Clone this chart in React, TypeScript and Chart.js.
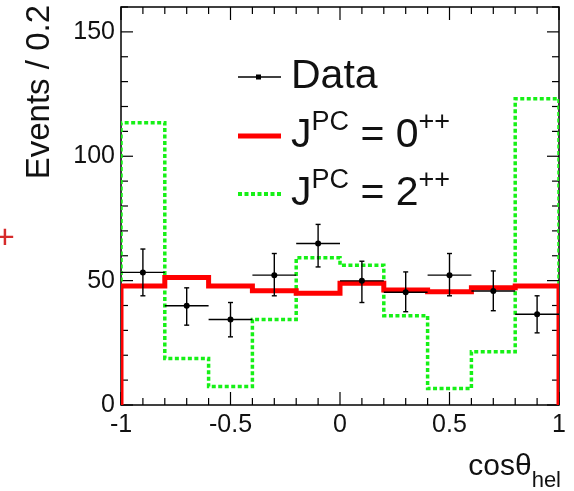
import React, { useEffect, useRef } from 'react';
import { Chart, registerables } from 'chart.js';

Chart.register(...registerables);

// Helicity-angle distribution, bins of width 0.2 in cos(theta_hel)
const binEdges = [-1, -0.8, -0.6, -0.4, -0.2, 0, 0.2, 0.4, 0.6, 0.8, 1];
const binCenters = [-0.9, -0.7, -0.5, -0.3, -0.1, 0.1, 0.3, 0.5, 0.7, 0.9];

// Observed events with asymmetric error bands
const dataCounts = [53.3, 39.9, 34.4, 52.2, 64.9, 49.9, 45.3, 52.2, 45.8, 36.5];
const dataUpper = [62.7, 47.1, 41.2, 60.9, 72.6, 57.8, 53.5, 60.9, 53.9, 43.9];
const dataLower = [43.9, 32.1, 27.4, 43.9, 55.5, 41.2, 37.5, 43.9, 37.9, 29.0];

// Spin-parity hypotheses
const scalar0pp = [47.8, 51.3, 47.8, 45.9, 44.9, 48.9, 46.2, 45.5, 47.1, 47.8];
const tensor2pp = [113.5, 18.7, 7.4, 34.4, 59.2, 56.2, 35.9, 6.6, 21.4, 123.1];

const yTickLabels = [0, 50, 100, 150];
const xTickLabels = [-1, -0.5, 0, 0.5, 1];

const FONT = '"Liberation Sans", Arial, Helvetica, sans-serif';
const RED = '#ff0000';
const GREEN = '#16f016';

const outline = (vals: number[]) => [
  { x: binEdges[0], y: 0 },
  ...vals.map((v, i) => ({ x: binEdges[i], y: v })),
  { x: binEdges[binEdges.length - 1], y: vals[vals.length - 1] },
  { x: binEdges[binEdges.length - 1], y: 0 },
];

const matchX = (v: number) => xTickLabels.find((t) => Math.abs(t - v) < 1e-6);

function seg(ctx: CanvasRenderingContext2D, x1: number, y1: number, x2: number, y2: number) {
  ctx.beginPath();
  ctx.moveTo(x1, y1);
  ctx.lineTo(x2, y2);
  ctx.stroke();
}

// Text made of normal and superscript runs
function drawRich(
  ctx: CanvasRenderingContext2D,
  parts: { t: string; sup?: boolean }[],
  x: number,
  baseline: number
) {
  let cx = x;
  parts.forEach((p) => {
    if (p.sup) {
      ctx.font = `27px ${FONT}`;
      ctx.fillText(p.t, cx, baseline - 17);
    } else {
      ctx.font = `41px ${FONT}`;
      ctx.fillText(p.t, cx, baseline);
    }
    cx += ctx.measureText(p.t).width;
  });
}

const decorPlugin = {
  id: 'decor',
  beforeDatasetsDraw(chart: any) {
    const { ctx, chartArea: a, scales } = chart;
    ctx.save();
    ctx.strokeStyle = '#000';
    ctx.lineWidth = 1.5;
    ctx.strokeRect(a.left, a.top, a.right - a.left, a.bottom - a.top);
    ctx.lineWidth = 1.2;
    const ys = scales.y;
    ys.ticks.forEach((t: any) => {
      const py = ys.getPixelForValue(t.value);
      const len = yTickLabels.includes(t.value) ? 12 : 7;
      seg(ctx, a.left, py, a.left + len, py);
      seg(ctx, a.right, py, a.right - len, py);
    });
    const xs = scales.x;
    xs.ticks.forEach((t: any) => {
      const px = xs.getPixelForValue(t.value);
      const len = matchX(t.value) !== undefined ? 13 : 7;
      seg(ctx, px, a.bottom, px, a.bottom - len);
      seg(ctx, px, a.top, px, a.top + len);
    });
    ctx.restore();
  },
  afterDatasetsDraw(chart: any) {
    const { ctx, scales } = chart;
    const xs = scales.x;
    const ys = scales.y;
    ctx.save();
    ctx.strokeStyle = '#000';
    ctx.lineWidth = 1.4;
    binCenters.forEach((c, i) => {
      const px = xs.getPixelForValue(c);
      const pl = xs.getPixelForValue(binEdges[i]);
      const pr = xs.getPixelForValue(binEdges[i + 1]);
      const py = ys.getPixelForValue(dataCounts[i]);
      const pu = ys.getPixelForValue(dataUpper[i]);
      const pd = ys.getPixelForValue(dataLower[i]);
      seg(ctx, pl, py, pr, py);
      seg(ctx, px, pu, px, pd);
      seg(ctx, px - 2.5, pu, px + 2.5, pu);
      seg(ctx, px - 2.5, pd, px + 2.5, pd);
    });
    ctx.restore();
  },
  afterDraw(chart: any) {
    const { ctx } = chart;
    ctx.save();
    ctx.fillStyle = '#111';

    // y-axis title
    ctx.save();
    ctx.translate(49, 5);
    ctx.rotate(-Math.PI / 2);
    ctx.font = `33px ${FONT}`;
    ctx.textAlign = 'right';
    ctx.textBaseline = 'alphabetic';
    ctx.fillText('Events / 0.2', 0, 0);
    ctx.restore();

    // x-axis title with subscript
    ctx.textAlign = 'left';
    ctx.textBaseline = 'alphabetic';
    ctx.font = `22px ${FONT}`;
    const wSub = ctx.measureText('hel').width;
    ctx.font = `30px ${FONT}`;
    const wMain = ctx.measureText('cosθ').width;
    const xEnd = 561;
    ctx.fillText('cosθ', xEnd - wSub - wMain, 475);
    ctx.font = `22px ${FONT}`;
    ctx.fillText('hel', xEnd - wSub, 487);

    // legend
    ctx.strokeStyle = '#000';
    ctx.lineWidth = 1.5;
    seg(ctx, 238, 77, 281, 77);
    ctx.fillStyle = '#000';
    ctx.fillRect(256, 74.5, 5, 5);
    ctx.strokeStyle = RED;
    ctx.lineWidth = 5;
    seg(ctx, 238, 136, 281, 136);
    ctx.strokeStyle = GREEN;
    ctx.lineWidth = 4;
    ctx.setLineDash([4, 2.5]);
    seg(ctx, 238, 194, 281, 194);
    ctx.setLineDash([]);

    ctx.fillStyle = '#111';
    ctx.font = `41px ${FONT}`;
    ctx.fillText('Data', 291, 88);
    drawRich(ctx, [{ t: 'J' }, { t: 'PC', sup: true }, { t: ' = 0' }, { t: '++', sup: true }], 291, 147);
    drawRich(ctx, [{ t: 'J' }, { t: 'PC', sup: true }, { t: ' = 2' }, { t: '++', sup: true }], 291, 205);

    // red marker at the left margin
    ctx.fillStyle = '#d62a2a';
    ctx.font = `34px ${FONT}`;
    ctx.textAlign = 'center';
    ctx.textBaseline = 'middle';
    ctx.fillText('+', 5, 239);
    ctx.restore();
  },
};

export default function App() {
  const ref = useRef<HTMLCanvasElement>(null);

  useEffect(() => {
    if (!ref.current) return;
    const chart = new Chart(ref.current, {
      type: 'line',
      data: {
        datasets: [
          {
            label: 'Data',
            data: binCenters.map((c, i) => ({ x: c, y: dataCounts[i] })),
            showLine: false,
            pointRadius: 3,
            pointBackgroundColor: '#000',
            pointBorderColor: '#000',
            pointBorderWidth: 0,
            order: 0,
          },
          {
            label: 'J^PC = 0++',
            data: outline(scalar0pp),
            stepped: 'before',
            borderColor: RED,
            borderWidth: 5,
            pointRadius: 0,
            fill: false,
            order: 1,
          },
          {
            label: 'J^PC = 2++',
            data: outline(tensor2pp),
            stepped: 'before',
            borderColor: GREEN,
            borderWidth: 3.5,
            borderDash: [4, 2.5],
            pointRadius: 0,
            fill: false,
            order: 2,
          },
        ],
      },
      options: {
        responsive: false,
        animation: false,
        layout: { padding: { top: 7, right: 15, left: 0, bottom: 0 } },
        plugins: { legend: { display: false }, tooltip: { enabled: false } },
        scales: {
          x: {
            type: 'linear',
            min: -1,
            max: 1,
            afterFit: (s: any) => {
              s.height = 86;
              s.paddingLeft = 0;
              s.paddingRight = 0;
            },
            grid: { display: false, drawTicks: false },
            border: { display: false },
            ticks: {
              stepSize: 0.1,
              autoSkip: false,
              maxRotation: 0,
              padding: 5,
              color: '#111',
              font: { family: FONT, size: 25 },
              callback: (v: any) => {
                const m = matchX(Number(v));
                return m === undefined ? '' : String(m);
              },
            },
          },
          y: {
            type: 'linear',
            min: 0,
            max: 160,
            afterFit: (s: any) => {
              s.width = 121;
              s.paddingTop = 0;
              s.paddingBottom = 0;
            },
            grid: { display: false, drawTicks: false },
            border: { display: false },
            ticks: {
              stepSize: 10,
              autoSkip: false,
              padding: 6,
              color: '#111',
              font: { family: FONT, size: 25 },
              callback: (v: any) => (yTickLabels.includes(Number(v)) ? String(v) : ''),
            },
          },
        },
      },
      plugins: [decorPlugin],
    });
    return () => chart.destroy();
  }, []);

  return (
    <div style={{ position: 'fixed', left: 0, top: 0, width: 574, height: 491, background: '#fff' }}>
      <canvas ref={ref} width={574} height={491} style={{ display: 'block' }} />
    </div>
  );
}
